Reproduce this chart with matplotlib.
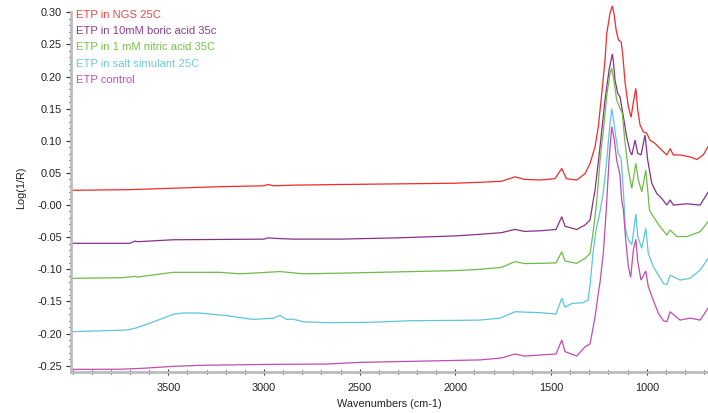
import matplotlib
matplotlib.use("Agg")
import matplotlib.pyplot as plt
from matplotlib.ticker import FixedLocator

plt.rcParams['font.family'] = ['Liberation Sans', 'DejaVu Sans']

# ---- spectra: wavenumber (cm-1) and log(1/R) ----
wn_ngs = [4000, 3700, 3500, 3230, 3000, 2979, 2950, 2848, 2603, 2300, 2000, 1871,
          1760, 1688, 1640, 1558, 1480, 1444, 1420, 1366, 1322, 1296, 1270, 1253,
          1235, 1218, 1209, 1192, 1180, 1171, 1160, 1148, 1134, 1126, 1113, 1096,
          1082, 1070, 1057, 1047, 1035, 1018, 1000, 983, 957, 922, 895, 878, 861,
          826, 774, 738, 705, 680]
ab_ngs = [0.023, 0.024, 0.026, 0.0286, 0.030, 0.032, 0.030, 0.031, 0.032, 0.033,
          0.034, 0.0355, 0.037, 0.044, 0.040, 0.039, 0.041, 0.057, 0.041, 0.039,
          0.049, 0.065, 0.091, 0.122, 0.174, 0.226, 0.267, 0.2985, 0.310, 0.298,
          0.2725, 0.257, 0.254, 0.236, 0.190, 0.153, 0.1366, 0.160, 0.1817, 0.148,
          0.1246, 0.114, 0.112, 0.101, 0.096, 0.0857, 0.078, 0.088, 0.078, 0.078,
          0.075, 0.071, 0.078, 0.091]

wn_boric = [4000, 3700, 3674, 3660, 3475, 3000, 2979, 2930, 2848, 2603, 2300, 2000,
            1871, 1760, 1688, 1640, 1558, 1474, 1444, 1427, 1366, 1322, 1296, 1281,
            1270, 1244, 1218, 1197, 1180, 1175, 1166, 1152, 1140, 1122, 1105, 1087,
            1078, 1061, 1047, 1030, 1009, 995, 974, 948, 922, 895, 878, 861, 826,
            791, 721, 680]
ab_boric = [-0.0595, -0.0595, -0.056, -0.057, -0.054, -0.053, -0.051, -0.052,
            -0.053, -0.053, -0.051, -0.048, -0.0455, -0.043, -0.0378, -0.041,
            -0.040, -0.038, -0.018, -0.033, -0.038, -0.031, -0.023, 0.005, 0.0234,
            0.091, 0.1635, 0.210, 0.235, 0.2258, 0.195, 0.174, 0.1686, 0.1375,
            0.1064, 0.083, 0.078, 0.101, 0.0805, 0.078, 0.109, 0.070, 0.034, 0.0183,
            0.0105, 0.000, 0.008, 0.000, 0.001, 0.002, 0.000, 0.020]

wn_nitric = [4000, 3741, 3674, 3660, 3475, 3230, 3125, 2916, 2794, 2603, 2300, 2000,
             1871, 1760, 1688, 1640, 1558, 1474, 1444, 1427, 1366, 1322, 1296, 1281,
             1265, 1253, 1244, 1227, 1209, 1192, 1183, 1169, 1157, 1140, 1128, 1113,
             1096, 1078, 1057, 1044, 1026, 1005, 995, 986, 966, 930, 895, 878, 843,
             791, 721, 680]
ab_nitric = [-0.114, -0.113, -0.111, -0.112, -0.1047, -0.1047, -0.107, -0.1035,
             -0.107, -0.106, -0.104, -0.102, -0.100, -0.097, -0.088, -0.091,
             -0.0907, -0.090, -0.0726, -0.087, -0.0907, -0.083, -0.075, -0.044,
             -0.005, 0.035, 0.070, 0.115, 0.170, 0.205, 0.2128, 0.189, 0.1635,
             0.1506, 0.143, 0.096, 0.0545, 0.026, 0.065, 0.039, 0.0208, 0.0545,
             0.0234, -0.0077, -0.018, -0.0337, -0.0466, -0.0388, -0.049, -0.049,
             -0.0415, -0.026]

wn_salt = [4000, 3717, 3665, 3561, 3474, 3422, 3334, 3195, 3056, 2951, 2916, 2881,
           2848, 2794, 2672, 2446, 2237, 1976, 1871, 1767, 1688, 1558, 1474, 1444,
           1427, 1390, 1333, 1307, 1296, 1281, 1265, 1244, 1227, 1209, 1192, 1183,
           1175, 1162, 1148, 1134, 1124, 1118, 1113, 1096, 1078, 1057, 1047, 1026,
           1005, 992, 966, 939, 913, 895, 878, 826, 774, 721, 680]
ab_salt = [-0.197, -0.1945, -0.191, -0.180, -0.170, -0.168, -0.168, -0.172, -0.178,
           -0.176, -0.1716, -0.178, -0.1775, -0.1816, -0.183, -0.1825, -0.180,
           -0.1794, -0.179, -0.176, -0.166, -0.1675, -0.1696, -0.145, -0.159,
           -0.153, -0.152, -0.148, -0.1244, -0.075, -0.0388, -0.010, 0.020, 0.070,
           0.127, 0.150, 0.135, 0.1064, 0.080, 0.0727, 0.030, 0.000, -0.035, -0.054,
           -0.062, -0.014, -0.049, -0.0673, -0.036, -0.075, -0.096, -0.109, -0.122,
           -0.124, -0.109, -0.1167, -0.114, -0.101, -0.083]

wn_ctrl = [4000, 3752, 3631, 3474, 3334, 2986, 2672, 2498, 2150, 1871, 1760, 1688,
           1640, 1558, 1474, 1444, 1427, 1366, 1322, 1296, 1286, 1270, 1253, 1244,
           1227, 1212, 1197, 1183, 1169, 1157, 1140, 1131, 1122, 1110, 1096, 1084,
           1070, 1057, 1047, 1030, 1005, 992, 966, 939, 913, 895, 878, 826, 774,
           721, 680]
ab_ctrl = [-0.2557, -0.2555, -0.254, -0.251, -0.2494, -0.248, -0.2474, -0.2448,
           -0.2427, -0.241, -0.238, -0.2318, -0.235, -0.2334, -0.2318, -0.210,
           -0.228, -0.235, -0.2205, -0.216, -0.1996, -0.1738, -0.137, -0.120,
           -0.075, -0.010, 0.070, 0.122, 0.101, 0.070, 0.0468, 0.0079, -0.0077,
           -0.054, -0.096, -0.1125, -0.070, -0.0533, -0.088, -0.1167, -0.1026,
           -0.127, -0.148, -0.1685, -0.180, -0.1816, -0.166, -0.179, -0.176, -0.179,
           -0.1607]

labels = ["ETP in NGS 25C", "ETP in 10mM boric acid 35c",
          "ETP in 1 mM nitric acid 35C", "ETP in salt simulant 25C", "ETP control"]
line_colors = ["#ef2b2b", "#86308a", "#6cbd45", "#5cc6dc", "#c24caf"]
text_colors = ["#f04545", "#8c3e8c", "#78c445", "#6ccbde", "#c252b2"]

x_ticks = [3500, 3000, 2500, 2000, 1500, 1000]
x_ticklabels = ["3500", "3000", "2500", "2000", "1500", "1000"]
y_ticks = [-0.25, -0.20, -0.15, -0.10, -0.05, 0.0, 0.05, 0.10, 0.15, 0.20, 0.25, 0.30]
y_ticklabels = ["-0.25", "-0.20", "-0.15", "-0.10", "-0.05", "-0.00",
                "0.05", "0.10", "0.15", "0.20", "0.25", "0.30"]

series = [(wn_ngs, ab_ngs), (wn_boric, ab_boric), (wn_nitric, ab_nitric),
          (wn_salt, ab_salt), (wn_ctrl, ab_ctrl)]

W, H = 708, 413
fig = plt.figure(figsize=(W / 100, H / 100), dpi=100)
ax = fig.add_axes([71 / W, 41 / H, (W - 71) / W, (372 - 3) / H])

for (wn, ab), col in zip(series, line_colors):
    ax.plot(wn, ab, color=col, lw=0.9, solid_joinstyle="miter", clip_on=False)

ax.set_xlim(4008, 680)
ax.set_ylim(-0.2598, 0.3145)

for side in ("top", "right"):
    ax.spines[side].set_visible(False)
for side in ("left", "bottom"):
    ax.spines[side].set_color("#bcbcbc")
    ax.spines[side].set_linewidth(2.0)
ax.spines["left"].set_bounds(-0.2598, 0.30)

ax.xaxis.set_major_locator(FixedLocator(x_ticks))
ax.set_xticklabels(x_ticklabels)
ax.xaxis.set_minor_locator(FixedLocator(list(range(4000, 600, -100))))
ax.yaxis.set_major_locator(FixedLocator(y_ticks))
ax.set_yticklabels(y_ticklabels)
ax.yaxis.set_minor_locator(FixedLocator([round(-0.25 + 0.01 * i, 2) for i in range(56)]))

tick_col = "#2a2a2a"
fs = 7.8
ax.tick_params(axis="x", which="major", direction="inout", length=4.5, width=0.8,
               color=tick_col, pad=6, labelsize=fs, labelcolor="#222222")
ax.tick_params(axis="x", which="minor", direction="inout", length=2.5, width=0.8,
               color=tick_col)
ax.tick_params(axis="y", which="major", direction="out", length=3.5, width=0.8,
               color=tick_col, pad=3, labelsize=fs, labelcolor="#222222")
ax.tick_params(axis="y", which="minor", direction="out", length=1.5, width=0.8,
               color=tick_col)

ax.set_xlabel("Wavenumbers (cm-1)", fontsize=fs, color="#222222", labelpad=4)
ax.set_ylabel("Log(1/R)", fontsize=fs, color="#222222", labelpad=8)

# legend-style list of sample names in the upper-left corner
for i, (lab, tc) in enumerate(zip(labels, text_colors)):
    fig.text(76 / W, 1 - (15 + 16.2 * i) / H, lab, color=tc, fontsize=8.1,
             ha="left", va="center")

fig.savefig("out.png", dpi=100)
